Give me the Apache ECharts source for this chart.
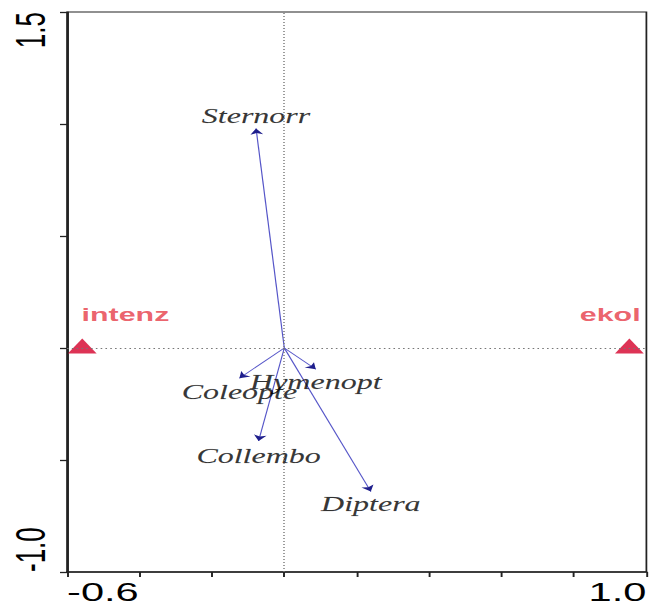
<!DOCTYPE html>
<html>
<head>
<meta charset="utf-8">
<script src="https://cdn.jsdelivr.net/npm/echarts@6/dist/echarts.min.js"></script>
<style>
  html, body { margin: 0; padding: 0; background: #fff; overflow: hidden; }
  /* the plot is drawn narrow and widened horizontally, giving the wide lettering */
  #chart { width: 407px; height: 608px; transform: scaleX(1.6); transform-origin: 0 0; }
</style>
</head>
<body>
<div id="chart"></div>
<script>
// Species scores (arrow tips) on ordination axes 1 and 2
const speciesNames = ['Sternorr', 'Hymenopt', 'Coleopte', 'Collembo', 'Diptera'];
const speciesAx1 = [-0.078, 0.087, -0.124, -0.071, 0.239];
const speciesAx2 = [0.98, -0.095, -0.135, -0.415, -0.641];

// Centroids of the nominal environmental variables
const envNames = ['intenz', 'ekol'];
const envAx1 = [-0.558, 0.953];
const envAx2 = [0, 0];

// Labelled ticks (axis ends)
const xTickLabels = ['-0.6', '1.0'];
const yTickLabels = ['-1.0', '1.5'];

// label placement around each arrow tip: [position, distance]
const speciesLabelPlace = {
  Sternorr: ['top', 2],
  Hymenopt: ['bottom', 3],
  Coleopte: ['bottom', 4],
  Collembo: ['bottom', 5],
  Diptera: ['bottom', 3]
};
// horizontal shift of the centroid labels
const envLabelShift = { intenz: 27, ekol: -12 };

const axisColor = '#222';
const arrowColor = '#5555c8';
const arrowHeadColor = '#1e1e8c';

const arrowData = speciesNames.map((n, i) => ({ coords: [[0, 0], [speciesAx1[i], speciesAx2[i]]] }));

const chart = echarts.init(document.getElementById('chart'), null, { renderer: 'svg' });

const option = {
  backgroundColor: '#fff',
  animation: false,
  grid: {
    left: 41.9, right: 2, top: 12, bottom: 36,
    show: true, borderColor: axisColor, borderWidth: 1.1, backgroundColor: 'transparent'
  },
  xAxis: {
    type: 'value',
    min: parseFloat(xTickLabels[0]),
    max: parseFloat(xTickLabels[1]),
    interval: 0.2,
    splitLine: { show: false },
    axisLine: { show: true, onZero: false, lineStyle: { color: axisColor, width: 1.5 } },
    axisTick: { show: true, length: 5, lineStyle: { color: axisColor, width: 1.2 } },
    axisLabel: {
      margin: 7,
      fontFamily: 'Liberation Sans',
      fontSize: 26,
      color: '#000',
      alignMinLabel: 'left',
      alignMaxLabel: 'right',
      formatter: v => (xTickLabels.includes(v.toFixed(1)) ? v.toFixed(1) : '')
    }
  },
  yAxis: {
    type: 'value',
    min: parseFloat(yTickLabels[0]),
    max: parseFloat(yTickLabels[1]),
    interval: 0.5,
    splitLine: { show: false },
    axisLine: { show: true, onZero: false, lineStyle: { color: axisColor, width: 1.2 } },
    axisTick: { show: true, length: 4.4, lineStyle: { color: axisColor, width: 1.3 } },
    axisLabel: {
      rotate: 90,
      margin: 10,
      fontFamily: 'Liberation Sans',
      fontSize: 26,
      color: '#000',
      verticalAlign: 'bottom',
      alignMinLabel: 'left',
      alignMaxLabel: 'right',
      formatter: v => (yTickLabels.includes(v.toFixed(1)) ? v.toFixed(1) : '')
    }
  },
  series: [
    {
      // species arrows from the origin
      type: 'lines',
      coordinateSystem: 'cartesian2d',
      silent: true,
      symbol: ['none', 'none'],
      lineStyle: { color: arrowColor, width: 0.75, opacity: 1 },
      data: arrowData
    },
    {
      // darker arrowheads on the same arrows
      type: 'lines',
      coordinateSystem: 'cartesian2d',
      silent: true,
      symbol: ['none', 'arrow'],
      symbolSize: 6,
      lineStyle: { color: arrowHeadColor, width: 0, opacity: 1 },
      data: arrowData
    },
    {
      // species names at the arrow tips, plus the dotted zero lines
      type: 'scatter',
      silent: true,
      symbolSize: 0,
      data: speciesNames.map((n, i) => ({
        value: [speciesAx1[i], speciesAx2[i]],
        name: n,
        label: {
          show: true,
          position: speciesLabelPlace[n][0],
          distance: speciesLabelPlace[n][1],
          formatter: '{b}',
          fontFamily: 'Liberation Serif',
          fontStyle: 'italic',
          fontSize: 20,
          color: '#000',
          textBorderColor: 'rgba(0,0,0,0.35)',
          textBorderWidth: 0.3
        }
      })),
      markLine: {
        silent: true,
        symbol: ['none', 'none'],
        label: { show: false },
        lineStyle: { color: '#777', width: 0.9, type: [1, 2] },
        data: [{ xAxis: 0 }, { yAxis: 0 }]
      }
    },
    {
      // centroids of the environmental classes
      type: 'scatter',
      silent: true,
      symbol: 'triangle',
      symbolSize: [18, 15],
      symbolOffset: [0, -2],
      itemStyle: { color: '#d4002a' },
      data: envNames.map((n, i) => ({
        value: [envAx1[i], envAx2[i]],
        name: n,
        label: {
          show: true,
          position: 'top',
          distance: 5,
          offset: [envLabelShift[n], -10],
          formatter: '{b}',
          fontFamily: 'Liberation Sans',
          fontWeight: 'bold',
          fontSize: 19,
          color: '#e63a46'
        }
      }))
    }
  ]
};

chart.setOption(option);
</script>
</body>
</html>
